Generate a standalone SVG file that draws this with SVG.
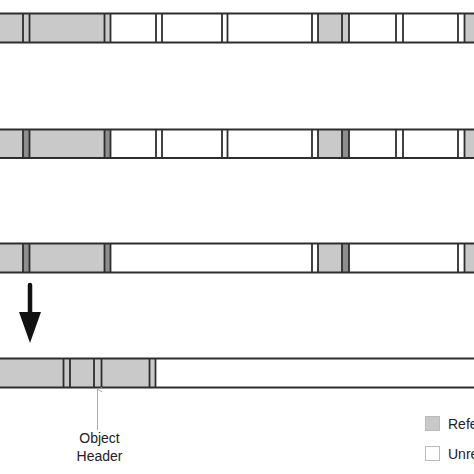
<svg xmlns="http://www.w3.org/2000/svg" width="474" height="474" viewBox="0 0 474 474">
<defs>
<style>
.ref{fill:#c9c9c9;stroke:none}
.mark{fill:#8e8e8e;stroke:none}
.free{fill:#ffffff;stroke:none}
.edge{stroke:#2e2e2e;stroke-width:1.8;fill:none}
.lbl{font-family:"Liberation Sans",Arial,sans-serif;font-size:14px;fill:#222}
</style>
<marker id="tip" viewBox="0 0 8 8" refX="4" refY="1" markerWidth="6" markerHeight="6" orient="auto-start-reverse">
<path d="M1,7 L4,1 L7,7" fill="none" stroke="#999" stroke-width="1"/>
</marker>
</defs>
<rect width="474" height="474" fill="#fff"/>

<g id="row1">
<rect class="ref" x="0" y="13.5" width="111" height="29"/>
<rect class="free" x="111" y="13.5" width="207" height="29"/>
<rect class="ref" x="318" y="13.5" width="31" height="29"/>
<rect class="free" x="349" y="13.5" width="115" height="29"/>
<rect class="ref" x="464" y="13.5" width="10" height="29"/>
<path class="edge" d="M0,13.5H474M0,42.5H474M23,13.5V42.5M29.5,13.5V42.5M104.5,13.5V42.5M110.5,13.5V42.5M156,13.5V42.5M162,13.5V42.5M222,13.5V42.5M227.5,13.5V42.5M312,13.5V42.5M318,13.5V42.5M342,13.5V42.5M349,13.5V42.5M396,13.5V42.5M403,13.5V42.5M458,13.5V42.5M464.5,13.5V42.5"/>
</g>

<g id="row2">
<rect class="ref" x="0" y="129.5" width="111" height="28.5"/>
<rect class="mark" x="23" y="129.5" width="6.5" height="28.5"/>
<rect class="mark" x="104.5" y="129.5" width="6" height="28.5"/>
<rect class="free" x="111" y="129.5" width="207" height="28.5"/>
<rect class="ref" x="318" y="129.5" width="31" height="28.5"/>
<rect class="mark" x="342" y="129.5" width="7" height="28.5"/>
<rect class="free" x="349" y="129.5" width="115" height="28.5"/>
<rect class="ref" x="464" y="129.5" width="10" height="28.5"/>
<path class="edge" d="M0,129.5H474M0,158H474M23,129.5V158M29.5,129.5V158M104.5,129.5V158M110.5,129.5V158M156,129.5V158M162,129.5V158M222,129.5V158M227.5,129.5V158M312,129.5V158M318,129.5V158M342,129.5V158M349,129.5V158M396,129.5V158M403,129.5V158M458,129.5V158M464.5,129.5V158"/>
</g>

<g id="row3">
<rect class="ref" x="0" y="243.5" width="111" height="29"/>
<rect class="mark" x="23" y="243.5" width="6.5" height="29"/>
<rect class="mark" x="104.5" y="243.5" width="6" height="29"/>
<rect class="free" x="111" y="243.5" width="207" height="29"/>
<rect class="ref" x="318" y="243.5" width="31" height="29"/>
<rect class="mark" x="342" y="243.5" width="7" height="29"/>
<rect class="free" x="349" y="243.5" width="115" height="29"/>
<rect class="ref" x="464" y="243.5" width="10" height="29"/>
<path class="edge" d="M0,243.5H474M0,272.5H474M23,243.5V272.5M29.5,243.5V272.5M104.5,243.5V272.5M110.5,243.5V272.5M312,243.5V272.5M318,243.5V272.5M342,243.5V272.5M349,243.5V272.5M458,243.5V272.5M464.5,243.5V272.5"/>
</g>

<g id="row4">
<rect class="ref" x="0" y="358.5" width="155.5" height="29"/>
<rect class="free" x="155.5" y="358.5" width="318.5" height="29"/>
<path class="edge" d="M0,358.5H474M0,387.5H474M63.5,358.5V387.5M70,358.5V387.5M94,358.5V387.5M101.5,358.5V387.5M149.5,358.5V387.5M155.5,358.5V387.5"/>
</g>

<g id="connectors">
<line x1="30" y1="285" x2="30" y2="314" stroke="#111" stroke-width="4.5" stroke-linecap="round"/>
<polygon points="19,312 41,312 30,343" fill="#111"/>
<line x1="97.5" y1="389.5" x2="97.5" y2="430" stroke="#aaa" stroke-width="1" marker-start="url(#tip)"/>
</g>

<g id="label">
<text class="lbl" x="99.5" y="443" text-anchor="middle">Object</text>
<text class="lbl" x="99.5" y="461" text-anchor="middle">Header</text>
</g>

<g id="legend">
<rect x="425.5" y="416.5" width="14" height="14" fill="#c9c9c9" stroke="#bbb" stroke-width="1"/>
<text class="lbl" x="448" y="429">Referenced</text>
<rect x="425.5" y="446.5" width="14" height="14" fill="#fff" stroke="#bbb" stroke-width="1"/>
<text class="lbl" x="448" y="459">Unreferenced</text>
</g>
</svg>
